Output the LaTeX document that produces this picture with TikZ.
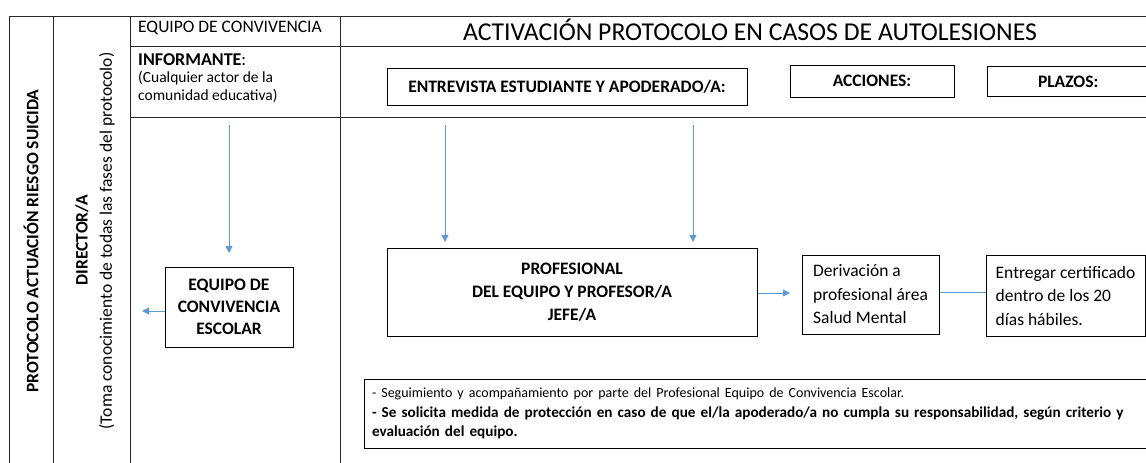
\documentclass[tikz,border=0pt]{standalone}
\usepackage{fontspec}
\setmainfont{Carlito}
\usetikzlibrary{arrows.meta}
\definecolor{arrowblue}{RGB}{91,155,213}
\definecolor{gridline}{RGB}{40,40,40}
\tikzset{
  grid/.style={draw=gridline, line width=0.9pt},
  box/.style={draw=black, line width=1pt, inner sep=0pt, fill=white},
  flow/.style={draw=arrowblue, line width=0.9pt, -{Triangle[length=7pt,width=7pt]}},
  link/.style={draw=arrowblue, line width=0.9pt},
  rot/.style={rotate=90, anchor=center, inner sep=0pt},
  lbl/.style={inner sep=0pt},
}
\begin{document}
\begin{tikzpicture}[x=1pt,y=-1pt]
\useasboundingbox (0,0) rectangle (1146,463);
% table grid
\draw[grid] (9,16) -- (1146,16);
\draw[grid] (9,16) -- (9,463);
\draw[grid] (53,16) -- (53,463);
\draw[grid] (130,16) -- (130,463);
\draw[grid] (340,16) -- (340,463);
\draw[grid] (130,46) -- (1146,46);
\draw[grid] (130,117) -- (1146,117);

% rotated column texts
\node[rot, font=\fontsize{17.5}{20}\selectfont\bfseries] (prot) at (31,241) {PROTOCOLO ACTUACIÓN RIESGO SUICIDA};
\node[rot, font=\fontsize{17.5}{20}\selectfont\bfseries] (dir) at (82,240) {DIRECTOR/A};
\node[rot, font=\fontsize{17.5}{20}\selectfont] (toma) at (107,241) {(Toma conocimiento de todas las fases del protocolo)};

% header texts
\node[lbl, anchor=west, font=\fontsize{17.5}{20}\selectfont] (eqh) at (138,28) {EQUIPO DE CONVIVENCIA};
\node[lbl, anchor=center, font=\fontsize{25.7}{30}\selectfont] (title) at (750,30) {ACTIVACIÓN PROTOCOLO EN CASOS DE AUTOLESIONES};
\node[lbl, anchor=west, font=\fontsize{18}{20}\selectfont] (inf) at (138,60) {\textbf{INFORMANTE}:};
\node[lbl, anchor=north west, align=left, font=\fontsize{15.5}{18}\selectfont] (infd) at (138,71) {(Cualquier actor de la\\comunidad educativa)};

% top boxes
\node[box, minimum width=360pt, minimum height=37pt, font=\fontsize{17.5}{20}\selectfont\bfseries] (entre) at (567,86.5) {ENTREVISTA ESTUDIANTE Y APODERADO/A:};
\node[box, minimum width=164pt, minimum height=32pt, font=\fontsize{17.5}{20}\selectfont\bfseries] (acc) at (872,81) {ACCIONES:};
\node[box, minimum width=170pt, minimum height=30pt, font=\fontsize{17.5}{20}\selectfont\bfseries, text width=160pt, align=left] (plz) at (1072,81.5) {\hspace*{46pt}PLAZOS:};

% main boxes
\node[box, minimum width=128pt, minimum height=80pt, align=center, font=\fontsize{17.5}{22}\selectfont\bfseries] (eq) at (229,307) {EQUIPO DE\\CONVIVENCIA\\ESCOLAR};
\node[box, minimum width=370pt, minimum height=88pt, align=center, font=\fontsize{17.5}{23}\selectfont\bfseries] (prof) at (572,292) {PROFESIONAL\\DEL EQUIPO Y PROFESOR/A\\JEFE/A};
\node[box, minimum width=137pt, minimum height=79pt, align=left, font=\fontsize{17.5}{23.5}\selectfont] (der) at (870.5,294.5) {Derivación a\\profesional área\\Salud Mental};
\node[box, minimum width=159pt, minimum height=81pt, align=left, font=\fontsize{17.5}{23.5}\selectfont] (ent) at (1065.5,295.5) {Entregar certificado\\dentro de los 20\\días hábiles.};
\node[box, minimum width=782pt, minimum height=69pt, text width=766pt, align=left, font=\fontsize{15.2}{19.5}\selectfont] (seg) at (755,413.5) {{\fontsize{14}{19.5}\selectfont - Seguimiento y acompañamiento por parte del Profesional Equipo de Convivencia Escolar.}\\\textbf{- Se solicita medida de protección en caso de que el/la apoderado/a no cumpla su responsabilidad, según criterio y}\\\textbf{evaluación del equipo.}};

% connectors
\coordinate (s1) at (229,125);
\coordinate (s2) at (445,125);
\coordinate (s3) at (693,125);
\coordinate (lend) at (142,311);
\draw[flow] (s1) -- (229,253);
\draw[flow] (s2) -- (445,242);
\draw[flow] (s3) -- (693,242);
\draw[flow] (eq.west |- lend) -- (lend);
\draw[flow] (prof.east |- 0,293) -- (790,293);
\draw[link] (der.east |- 0,292) -- (ent.west |- 0,292);
\end{tikzpicture}
\end{document}
